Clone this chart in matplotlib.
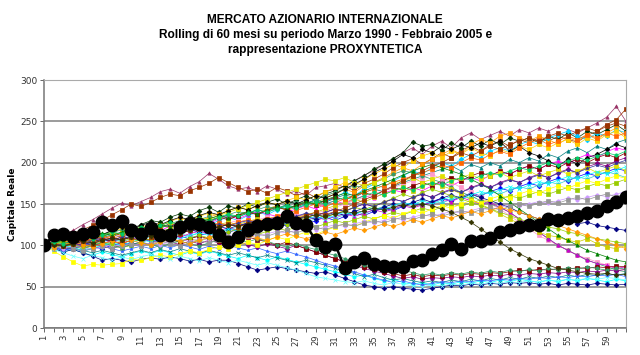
import matplotlib
matplotlib.use("Agg")
import matplotlib.pyplot as plt

months = list(range(1, 62))
tick_labels = [str(m) for m in range(1, 60, 2)]

proxyntetica = [100,112,114,110,114,116,128,125,129,118,
                114,121,112,112,122,127,126,122,112,104,
                110,119,123,126,127,135,127,125,106,98,
                102,72,80,85,78,75,74,74,81,82,
                89,94,102,96,105,105,109,116,119,122,
                125,125,132,131,133,135,139,141,148,152,158]

s01 = [100,106,113,118,125,131,138,145,151,148, 153,158,165,168,163,171,177,187,180,172,
       168,170,165,172,168,162,166,160,170,172, 175,170,178,185,190,198,205,212,218,210,
       220,226,218,230,236,228,233,238,232,240, 236,242,238,244,240,236,242,248,255,268,250]
s02 = [100,104,110,114,119,124,130,137,143,150, 147,152,158,162,160,166,170,175,182,176,
       170,165,168,163,170,166,160,164,158,165, 168,172,166,175,180,186,194,200,205,198,
       205,212,206,215,220,214,222,226,220,228, 224,230,226,232,228,225,233,238,246,252,265]
s03 = [100,103,108,105,110,114,112,118,122,120, 125,130,128,134,138,135,142,146,140,148,
       144,150,146,152,156,150,155,160,154,162, 166,172,178,184,192,198,205,212,225,220,
       222,215,224,218,226,220,228,222,230,226, 230,224,232,228,236,230,238,234,240,246,238]
s04 = [100,98,102,106,103,108,112,110,115,118, 116,120,124,121,126,130,128,134,138,132,
       136,140,138,144,148,142,146,152,150,158, 162,168,164,172,176,182,188,194,190,198,
       204,210,216,210,222,228,224,232,236,230, 226,232,228,222,230,226,234,228,236,242,232]
s05 = [100,97,95,99,102,100,104,108,106,110, 114,112,117,120,118,123,127,124,130,134,
       130,136,140,137,143,147,144,150,155,152, 158,164,160,168,174,170,178,184,190,186,
       194,200,196,204,210,206,214,218,214,222, 226,222,230,234,238,232,228,236,232,240,236]
s06 = [100,102,106,104,109,113,111,116,120,118, 122,126,124,129,133,130,135,139,136,142,
       146,143,148,152,149,154,158,155,160,164, 170,176,172,180,186,192,198,194,202,208,
       212,206,214,210,218,212,208,216,212,220, 216,222,218,224,228,222,230,226,234,238,230]
s07 = [100,101,99,103,107,105,109,113,110,115, 119,116,121,125,122,127,131,128,133,137,
       134,139,143,140,145,149,146,151,155,152, 157,161,158,164,168,165,171,176,180,184,
       188,192,196,190,198,194,200,196,204,200, 206,202,210,206,214,218,212,220,216,224,228]
s08 = [100,99,103,101,105,109,107,112,116,113, 117,121,118,123,127,124,129,126,132,136,
       132,137,141,138,135,140,144,148,144,150, 154,150,156,160,157,163,167,164,170,166,
       172,176,172,178,182,178,185,189,186,192, 196,192,198,202,198,205,210,206,213,218,215]
s09 = [100,96,99,102,100,104,102,106,110,107, 111,114,111,115,119,116,120,124,121,126,
       123,127,131,128,133,130,134,138,135,140, 144,141,146,150,147,152,156,153,158,162,
       158,164,168,164,170,174,170,176,180,176, 182,186,182,188,192,188,195,199,196,202,206]
s10 = [100,103,100,104,108,106,111,115,112,117, 121,118,122,126,123,128,132,129,134,131,
       136,140,137,142,146,143,148,152,149,154, 158,155,160,164,160,166,170,167,172,176,
       172,178,182,178,184,188,184,190,186,192, 196,192,198,194,200,204,200,206,210,206,212]
s11 = [100,97,94,97,100,98,96,100,103,101, 104,107,104,108,111,108,112,115,112,116,
       119,116,120,124,121,125,128,125,130,134, 130,135,139,136,141,145,142,147,151,148,
       153,157,154,159,163,160,165,169,166,171, 175,172,177,181,178,183,187,184,189,193,190]
s12 = [100,102,99,97,100,103,101,104,107,104, 107,110,107,111,114,111,115,118,115,119,
       122,119,123,126,123,127,131,128,132,136, 133,137,141,138,143,147,143,148,152,149,
       154,151,156,160,156,161,165,162,167,171, 168,173,177,174,179,183,180,185,189,186,182]
s13 = [100,98,101,99,96,99,102,100,97,100, 103,101,104,107,104,108,105,109,112,109,
       113,116,113,117,121,118,122,125,122,126, 130,127,131,135,132,136,140,137,141,145,
       142,146,150,147,151,155,152,156,160,157, 161,165,162,166,170,167,171,175,172,176,180]
s14 = [100,101,104,102,106,109,106,110,113,111, 114,117,114,118,121,118,122,126,123,127,
       130,127,131,134,131,135,138,135,139,142, 146,150,154,158,162,166,170,174,178,182,
       186,180,176,170,164,158,150,144,136,128, 120,112,106,100,94,88,84,80,76,72,70]
s15 = [100,103,107,105,109,113,110,115,119,116, 120,124,121,126,130,127,131,135,132,137,
       141,138,143,147,144,149,153,150,155,160, 164,168,172,170,176,180,186,190,188,184,
       180,176,170,164,160,154,150,146,140,132, 124,116,108,100,94,88,82,78,74,70,68]
s16 = [100,98,95,98,101,99,102,105,103,106, 109,106,110,113,110,114,117,114,118,121,
       118,122,125,122,126,129,126,130,134,131, 135,138,135,139,143,140,144,148,145,149,
       152,156,153,158,154,150,152,146,140,132, 124,116,108,100,94,88,82,78,76,72,74]
s17 = [100,102,105,103,107,110,108,112,115,113, 116,113,117,120,117,121,124,121,125,128,
       125,129,132,129,133,136,133,137,140,144, 148,152,156,152,158,162,166,170,166,172,
       176,172,168,162,156,150,144,138,132,126, 120,116,112,110,106,104,108,102,98,96,100]
s18 = [100,97,100,103,101,104,107,105,108,111, 108,112,115,112,116,119,116,120,123,120,
       124,127,124,128,131,128,132,135,132,136, 140,136,141,145,142,146,150,147,152,156,
       152,157,161,157,162,158,154,150,146,140, 136,132,134,128,130,126,128,124,122,120,118]
s19 = [100,96,92,95,91,88,92,89,86,90, 93,90,94,91,88,92,89,93,90,87,
       84,88,85,82,86,83,80,77,74,71, 68,65,62,64,60,57,59,55,53,55,
       52,55,53,56,54,57,55,58,56,59, 57,55,58,56,59,57,60,58,56,59,57]
s20 = [100,96,92,95,91,87,82,84,82,80, 83,85,83,86,84,81,83,80,82,82,
       78,74,70,72,74,72,70,68,66,68, 64,60,56,52,50,48,50,48,47,46,
       48,50,52,51,53,52,54,53,55,54, 55,53,54,52,54,53,52,54,53,52,53]
s21 = [100,98,95,97,94,91,94,91,88,91, 94,91,95,92,96,93,90,94,91,88,
       91,88,85,88,85,82,79,82,79,76, 72,69,66,62,65,61,58,60,57,55,
       57,55,58,56,59,57,60,58,61,59, 62,60,63,61,64,62,65,63,66,64,66]
s22 = [100,97,94,96,93,96,99,96,93,96, 99,96,100,97,101,98,95,99,96,100,
       97,94,97,93,90,93,89,86,82,78, 75,71,68,64,61,58,55,57,54,52,
       54,56,55,57,56,58,57,59,58,60, 59,61,60,62,61,63,62,64,63,65,62]
s23 = [100,102,99,96,99,102,99,96,100,103, 100,103,107,104,101,105,102,106,103,100,
       104,101,98,102,99,96,100,96,92,88, 84,80,76,72,69,66,63,60,62,59,
       61,60,62,61,63,62,64,63,65,64, 66,65,67,66,68,67,69,68,70,69,71]
s24 = [100,103,100,104,107,104,108,105,102,106, 109,106,110,107,104,108,111,108,105,109,
       106,110,107,104,100,104,100,96,92,88, 84,80,78,74,71,68,66,63,65,62,
       64,63,65,64,66,65,67,66,68,70, 69,71,70,72,71,73,72,74,73,75,74]
s25 = [100,99,102,99,96,100,103,100,97,101, 104,101,98,102,105,102,99,103,106,103,
       107,104,108,105,101,98,102,98,95,91, 88,84,80,76,72,70,68,70,67,64,
       66,64,67,65,68,66,69,67,70,68, 71,69,72,70,73,71,74,72,70,73,71]
s26 = [100,93,86,80,75,77,76,77,78,83, 82,85,88,86,90,93,91,95,98,96,
       100,104,101,106,110,107,112,116,113,118, 122,126,123,128,132,136,133,138,142,139,
       144,148,145,150,154,151,156,160,157,162, 166,163,168,172,169,174,178,175,180,184,181]
s27 = [100,104,101,106,110,107,112,116,113,118, 122,119,124,128,125,130,134,131,136,140,
       144,148,152,156,160,164,168,172,176,180, 178,182,176,172,176,180,174,178,182,176,
       180,184,178,182,186,180,184,188,182,186, 190,184,188,192,186,190,194,188,192,196,190]
s28 = [100,104,108,106,111,115,113,118,122,119, 124,128,125,130,134,131,136,140,137,142,
       146,143,148,152,149,154,150,155,160,157, 162,168,174,180,188,194,202,210,206,216,
       212,220,216,222,218,224,220,226,214,220, 212,208,202,196,204,198,206,210,216,222,218]
s29 = [100,97,100,97,94,97,100,103,100,104, 107,104,108,111,108,112,115,112,116,120,
       117,121,125,122,126,130,127,131,135,132, 136,140,137,142,146,143,148,152,149,154,
       150,155,159,156,161,165,162,167,171,168, 173,177,174,179,183,180,185,189,186,191,195]
s30 = [100,101,104,107,104,108,111,108,112,115, 112,116,119,116,120,123,120,124,127,124,
       128,131,128,132,135,139,142,146,150,146, 152,156,160,164,168,172,176,180,184,188,
       192,197,194,200,206,203,210,214,210,218, 224,228,222,226,232,228,234,230,236,232,236]
s31 = [100,98,96,99,97,95,98,101,99,102, 100,103,101,104,107,105,108,106,109,112,
       110,113,111,114,117,115,118,121,119,122, 125,123,126,129,127,130,133,131,134,137,
       135,138,141,139,142,145,143,146,149,147, 150,153,151,154,157,155,158,161,159,162,165]
s32 = [100,102,104,101,98,101,104,102,105,108, 105,108,111,108,105,109,112,109,113,116,
       120,117,121,124,128,125,129,133,137,134, 138,142,146,143,148,152,157,162,158,164,
       168,164,160,156,152,148,144,140,136,132, 128,126,122,120,116,114,110,108,106,104,102]
s33 = [100,103,106,110,107,111,115,112,116,120, 117,121,125,122,126,130,127,132,136,133,
       137,141,138,143,147,144,149,153,150,155, 159,163,160,166,170,175,180,185,190,194,
       198,194,190,186,180,174,168,160,152,144, 136,128,120,112,106,100,94,90,86,82,80]
s34 = [100,99,102,105,102,106,109,106,110,113, 110,114,117,114,118,121,118,122,126,123,
       127,130,127,131,134,131,135,139,136,140, 144,141,146,150,147,152,156,153,158,162,
       158,163,167,164,169,173,170,175,179,176, 181,185,182,187,191,188,193,197,194,199,203]
s35 = [100,96,99,96,93,96,99,96,99,102, 99,102,105,102,99,103,106,103,107,110,
       107,111,114,111,115,118,115,119,122,119, 123,126,123,127,130,127,131,134,131,135,
       138,135,139,142,139,143,146,143,147,150, 147,151,154,151,155,158,155,159,162,159,163]
s36 = [100,95,91,87,84,88,85,82,86,83, 86,89,86,83,87,84,81,85,82,79,
       82,79,76,79,76,73,70,66,62,60, 58,56,55,57,54,52,55,53,51,50,
       52,51,53,52,54,53,55,54,56,55, 57,56,58,57,59,58,60,59,61,60,58]
s37 = [100,97,101,104,101,98,102,105,102,106, 103,100,104,108,105,102,106,110,107,104,
       108,112,109,106,110,114,111,108,112,116, 113,117,121,118,122,126,123,127,131,128,
       132,136,133,137,141,138,142,146,143,140, 136,132,128,124,120,116,112,108,104,100,96]
s38 = [100,102,99,102,105,102,106,109,106,110, 113,110,114,117,114,118,121,118,122,126,
       122,126,130,127,131,135,132,136,140,137, 141,145,150,155,160,166,172,178,184,190,
       196,200,206,212,208,214,220,216,222,226, 230,226,232,236,232,238,242,238,244,248,244]
s39 = [100,101,99,102,105,103,106,109,107,110, 113,111,114,117,115,118,121,119,122,125,
       123,126,129,127,130,133,131,134,137,135, 138,141,139,142,145,143,146,149,147,150,
       148,144,140,134,128,120,112,104,96,90, 84,80,76,72,70,68,66,65,66,64,65]
s40 = [100,104,102,106,110,108,112,116,114,118, 122,120,124,128,125,129,133,130,134,138,
       135,139,143,140,144,148,145,149,153,150, 154,158,155,160,164,161,166,170,167,172,
       176,173,178,182,179,184,188,185,190,194, 191,196,200,197,202,206,203,208,212,209,214]

series = [s01, s02, s03, s04, s05, s06, s07, s08, s09, s10,
          s11, s12, s13, s14, s15, s16, s17, s18, s19, s20,
          s21, s22, s23, s24, s25, s26, s27, s28, s29, s30,
          s31, s32, s33, s34, s35, s36, s37, s38, s39, s40]

colors = ['#993366', '#993300', '#003300', '#FF9900', '#00CCFF', '#FFCC00', '#008080', '#FF00FF',
          '#800080', '#800000', '#0000FF', '#33CCCC', '#99CC00', '#FF99CC', '#339966', '#CC00CC',
          '#CCCC00', '#000080', '#00FFFF', '#000080', '#008080', '#3366FF', '#800080', '#800000',
          '#339966', '#FFFF00', '#E0E000', '#000000', '#00FFFF', '#FF6600', '#CC99FF', '#99CC00',
          '#008000', '#333399', '#969696', '#66FFFF', '#FF9900', '#993300', '#333300', '#00CC66']
markers = ['^', 's', 'D', 's', 'D', 's', '^', '^', 'D', 's', 'D', 'o', 's', 's', 'o', '^',
           's', 'D', 'o', 'D', 'x', '*', 'D', 's', 'o', 's', 's', 'D', 'x', 's', 'o', 'o',
           '^', '*', 's', 'x', 'D', 's', 'D', 'o']

fig = plt.figure(figsize=(6.4, 3.55), dpi=100)
ax = fig.add_axes([44/640, 27/355, 582/640, 248/355])

for s, c, m in zip(series, colors, markers):
    ax.plot(months, s, color=c, lw=0.5, marker=m, ms=2.4, mec=c, mfc=c, mew=0.5, zorder=2)

ax.plot(months, proxyntetica, color='black', lw=1.8, marker='o', ms=9, zorder=5)

ax.set_xlim(1, 61)
ax.set_ylim(0, 300)
ax.set_yticks(range(0, 301, 50))
ax.yaxis.grid(True, color='#808080', lw=1.1, zorder=0)
ax.set_axisbelow(True)
ax.set_xticks(months, minor=True)
ax.set_xticks(range(1, 60, 2))
ax.set_xticklabels(tick_labels, rotation=90, fontsize=6, color='#333333')
ax.tick_params(axis='x', which='both', length=3, width=0.7, color='#666666', pad=2)
ax.tick_params(axis='y', length=3, width=0.7, color='#666666', labelsize=6.5, labelcolor='#333333', pad=2)
for side in ['top', 'right']:
    ax.spines[side].set_color('#aaaaaa')
    ax.spines[side].set_linewidth(0.8)
for side in ['left', 'bottom']:
    ax.spines[side].set_color('#777777')
    ax.spines[side].set_linewidth(1.1)

ax.set_ylabel('Capitale Reale', fontsize=6.5, fontweight='bold', labelpad=2)

fig.text(0.508, 0.96, 'MERCATO AZIONARIO INTERNAZIONALE\nRolling di 60 mesi su periodo Marzo 1990 - Febbraio 2005 e\nrappresentazione PROXYNTETICA',
         ha='center', va='top', fontsize=8.6, fontweight='bold', linespacing=1.32,
         family=['Liberation Sans', 'DejaVu Sans'])

fig.savefig('out.png', dpi=100)
